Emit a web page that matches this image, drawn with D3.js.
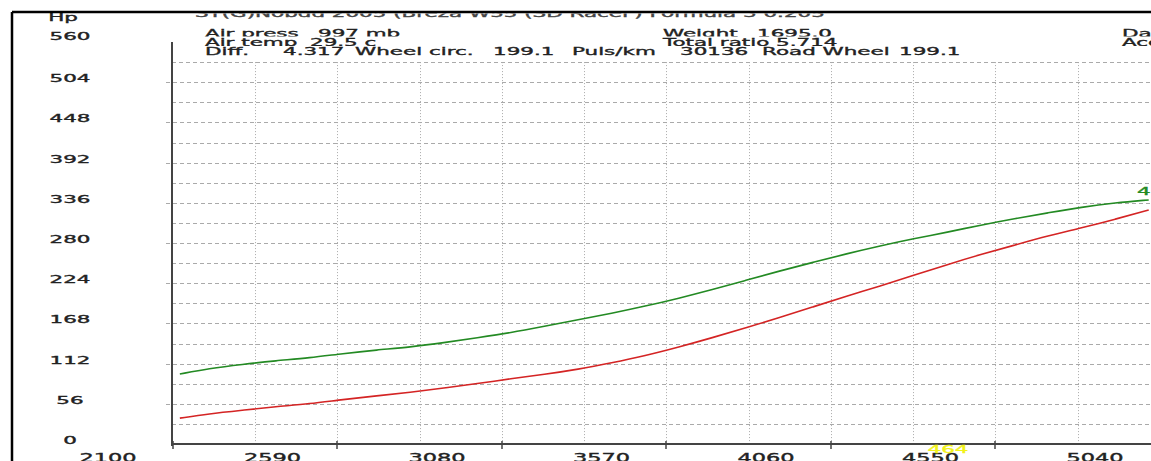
<!DOCTYPE html>
<html>
<head>
<meta charset="utf-8">
<script src="https://cdn.jsdelivr.net/npm/d3@7"></script>
<style>
  body { margin: 0; background: #fff; }
  svg { display: block; }
  text { font-family: "DejaVu Sans", Verdana, sans-serif; }
</style>
</head>
<body>
<div class="container"></div>
<script>
// engine speed (rpm) at each sample
var rpm = [2314, 2400, 2500, 2600, 2700, 2800, 2900, 3000, 3100, 3200,
           3300, 3400, 3500, 3600, 3700, 3800, 3900, 4000, 4100, 4200,
           4300, 4400, 4500, 4600, 4700, 4800, 4900, 5000, 5100, 5200];
// wheel power (hp), red curve
var wheelHp = [36, 42, 47, 52, 56, 62, 67, 72, 78, 84,
               91, 97, 104, 113, 123, 135, 148, 162, 176, 191,
               206, 220, 235, 250, 264, 277, 290, 301, 313, 326];
// engine power (hp), green curve
var engineHp = [97.5, 105, 111, 116, 120, 126, 131, 135, 141, 148,
                155, 164, 173, 182, 192, 203, 215, 228, 241, 253,
                265, 276, 286, 295, 305, 314, 322, 330, 336, 340];

var xLabels = [2100, 2590, 3080, 3570, 4060, 4550, 5040];
var yLabels = [0, 56, 112, 168, 224, 280, 336, 392, 448, 504, 560];
var yGrid = d3.range(28, 533, 28);

var headerLines = [
    [['Air press', 205], ['997 mb', 318], ['Weight', 663], ['1695.0', 757], ['Da', 1122]],
    [['Air temp', 205], ['29.5 c', 310], ['Total ratio 5.714', 663], ['Acc', 1122]],
    [['Diff.', 205], ['4.317', 283], ['Wheel circ.', 355], ['199.1', 493], ['Puls/km', 572],
     ['30136', 680], ['Road Wheel', 762], ['199.1', 899]]
];

var width = 1151, height = 461;
var sx = 1.95; // horizontal stretch of all text

var x = d3.scaleLinear().domain([2100, 5040]).range([108, 1095]);
var y = d3.scaleLinear().domain([0, 560]).range([444, 42]);
var tickShift = 64.5; // plot frame ticks sit right of the labels

var svg = d3.select('.container').append('svg')
    .attr('width', width)
    .attr('height', height);

function label(g, str, px, py, anchor, fill, size) {
    return g.append('g')
        .attr('transform', 'translate(' + px + ',' + py + ') scale(' + sx + ',1)')
        .append('text')
        .attr('text-anchor', anchor || 'start')
        .style('font-size', (size || 11) + 'px')
        .style('fill', fill || '#222')
        .style('stroke', fill || '#222')
        .style('stroke-width', 0.35)
        .text(str);
}

// grid
var grid = svg.append('g');
grid.selectAll('line.h')
    .data(yGrid)
    .enter().append('line')
    .attr('x1', (d) => d % 56 === 0 ? 166 : 172)
    .attr('x2', width)
    .attr('y1', (d) => Math.round(y(d)) + 0.5)
    .attr('y2', (d) => Math.round(y(d)) + 0.5)
    .style('stroke', '#aaa')
    .style('stroke-dasharray', '4,3');

var vGrid = [];
xLabels.forEach(function(v) {
    vGrid.push(x(v) + tickShift - 82);
    vGrid.push(x(v) + tickShift);
});
vGrid = vGrid.filter((d) => d > 200);
grid.selectAll('line.v')
    .data(vGrid)
    .enter().append('line')
    .attr('x1', (d) => Math.round(d) + 0.5)
    .attr('x2', (d) => Math.round(d) + 0.5)
    .attr('y1', y(532))
    .attr('y2', y(0))
    .style('stroke', '#aaa')
    .style('stroke-dasharray', '1,2');

// curves
var line = d3.line()
    .x((d, i) => x(rpm[i]))
    .y((d) => y(d))
    .curve(d3.curveBasis);

svg.append('path')
    .attr('d', line(engineHp))
    .style('fill', 'none')
    .style('stroke', '#238a23')
    .style('stroke-width', 1.6);

svg.append('path')
    .attr('d', line(wheelHp))
    .style('fill', 'none')
    .style('stroke', '#d42424')
    .style('stroke-width', 1.6);

label(svg, '464', 1137, 195, 'start', '#238a23', 11);

// axes
svg.append('line')
    .attr('x1', 172).attr('x2', 172)
    .attr('y1', 42).attr('y2', 446)
    .style('stroke', '#444').style('stroke-width', 2);
svg.append('line')
    .attr('x1', 171).attr('x2', width)
    .attr('y1', 444).attr('y2', 444)
    .style('stroke', '#444').style('stroke-width', 2);

svg.selectAll('line.xt')
    .data(xLabels.slice(0, 6))
    .enter().append('line')
    .attr('x1', (d) => Math.round(x(d) + tickShift))
    .attr('x2', (d) => Math.round(x(d) + tickShift))
    .attr('y1', 441).attr('y2', 449)
    .style('stroke', '#444').style('stroke-width', 1.5);

xLabels.forEach(function(v) {
    label(svg, v, x(v), 462, 'middle', '#222', 11.5);
});
yLabels.forEach(function(v) {
    label(svg, v, 70, y(v) + (v === 560 ? -2 : 0), 'middle', '#222', 11);
});
label(svg, 'Hp', 63, 21, 'middle', '#222', 11);

label(svg, '464', 948, 453, 'middle', '#f2f21a', 11);

// header block; the title line runs under the top of the frame
var head = svg.append('g');
label(head, 'ST(G)Nobdd 2005 (Breza W55 (SD RaceF) Formula 3 0.205', 195, 16.5, 'start', '#444', 11);
head.append('rect')
    .attr('x', 150).attr('y', 0).attr('width', width).attr('height', 13.5)
    .style('fill', '#fff');

var baselines = [37, 45.5, 55];
headerLines.forEach(function(row, i) {
    head.append('rect')
        .attr('x', 198).attr('width', 980)
        .attr('y', baselines[i] - 9).attr('height', 10.5)
        .style('fill', '#fff');
    row.forEach(function(f) {
        label(head, f[0], f[1], baselines[i], 'start', '#222', 11);
    });
});

// frame
svg.append('line')
    .attr('x1', 12).attr('x2', width).attr('y1', 12).attr('y2', 12)
    .style('stroke', '#000').style('stroke-width', 2.5);
svg.append('line')
    .attr('x1', 12).attr('x2', 12).attr('y1', 12).attr('y2', height)
    .style('stroke', '#000').style('stroke-width', 2.5);
</script>
</body>
</html>
